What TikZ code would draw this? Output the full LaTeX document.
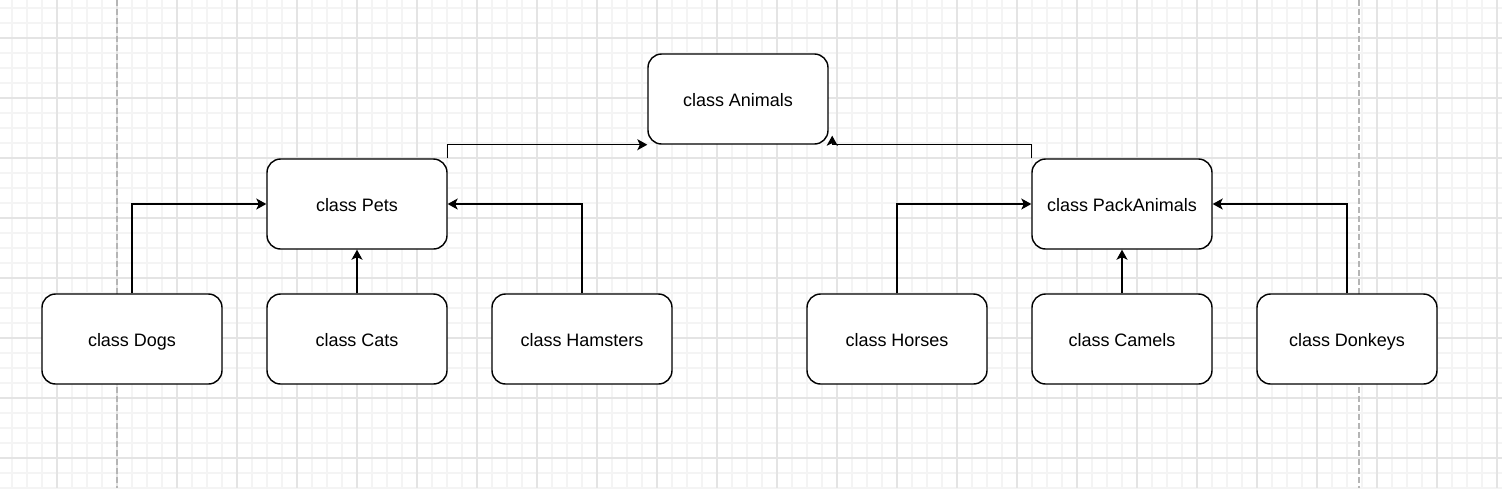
\documentclass[tikz,border=0pt]{standalone}
\usepackage{fontspec}
\setmainfont{Liberation Sans}
\usepackage{tikz}
\usepackage{xcolor}
\usetikzlibrary{arrows.meta,positioning}

\definecolor{gridminor}{HTML}{F4F4F4}
\definecolor{gridmajor}{HTML}{E4E4E4}
\definecolor{pageline}{HTML}{B5B5B5}

\tikzset{
    classbox/.style={draw=black, fill=white, line width=0.8pt, rounded corners=0.27cm,
        minimum width=3.6cm, minimum height=1.8cm, inner sep=0pt,
        text height=10pt, text depth=2pt,
        font=\fontsize{10.24}{12}\selectfont},
    link/.style={draw=black, line width=0.8pt, -{Stealth[length=0.2cm,width=0.22cm,inset=0.05cm]}},
    minorline/.style={draw=gridminor, line width=0.6pt},
    majorline/.style={draw=gridmajor, line width=0.6pt},
    pagebreak/.style={draw=pageline, line width=0.8pt, dash pattern=on 0.12cm off 0.06cm}
}

\begin{document}
\begin{tikzpicture}[x=0.02cm, y=0.02cm]
        \useasboundingbox (0,0) rectangle (1502,-488);
        % background grid
        \foreach \x in {12,27,...,1497} \draw [minorline] (\x,0) -- (\x,-488);
        \foreach \y in {8,23,...,488} \draw [minorline] (0,-\y) -- (1502,-\y);
        \foreach \x in {57,117,...,1497} \draw [majorline] (\x,0) -- (\x,-488);
        \foreach \y in {38,98,...,458} \draw [majorline] (0,-\y) -- (1502,-\y);
        \draw [pagebreak] (117,0) -- (117,-488);
        \draw [pagebreak] (1359,0) -- (1359,-488);
        % classes
        \node [classbox] (animals) at (738,-99) {class Animals};
        \node [classbox] (pets) at (357,-204) {class Pets};
        \node [classbox] (pack) at (1122,-204) {class PackAnimals};
        \node [classbox] (dogs) at (132,-339) {class Dogs};
        \node [classbox] (cats) at (357,-339) {class Cats};
        \node [classbox] (hamsters) at (582,-339) {class Hamsters};
        \node [classbox] (horses) at (897,-339) {class Horses};
        \node [classbox] (camels) at (1122,-339) {class Camels};
        \node [classbox] (donkeys) at (1347,-339) {class Donkeys};
        % inheritance
        \draw [link] (dogs.north) |- (pets.west);
        \draw [link] (cats.north) -- (pets.south);
        \draw [link] (hamsters.north) |- (pets.east);
        \draw [link] (horses.north) |- (pack.west);
        \draw [link] (camels.north) -- (pack.south);
        \draw [link] (donkeys.north) |- (pack.east);
        \draw [link] (pets.north east) |- (animals.south west);
        \coordinate (bend) at ([xshift=2pt]animals.south east);
        \draw [link] (pack.north west) |- (bend) -- ++(0,9);
\end{tikzpicture}
\end{document}
